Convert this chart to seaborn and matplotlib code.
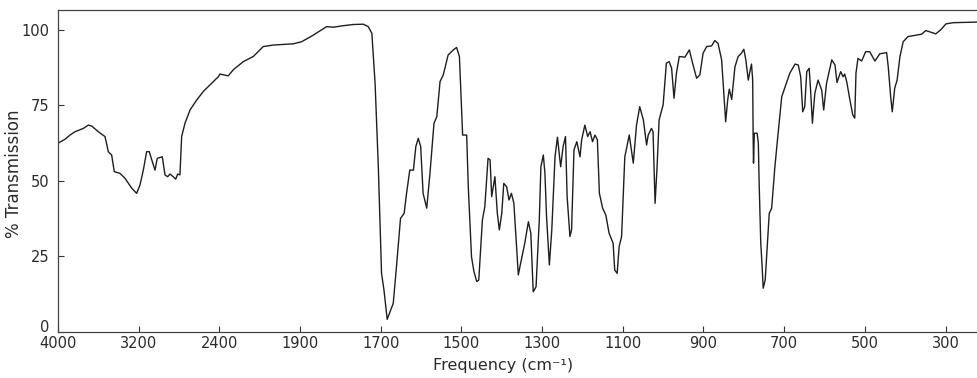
import numpy as np
import pandas as pd
import matplotlib
matplotlib.use("Agg")
import matplotlib.pyplot as plt
import matplotlib.transforms as mtransforms
import seaborn as sns

# tick frequencies of the chart paper (each tick spaced equally on the page)
tick_freqs = [4000, 3200, 2400, 1900, 1700, 1500, 1300, 1100, 900, 700, 500, 300]
tick_labels = [str(t) for t in tick_freqs]

# spectrum, wavenumber (cm-1) and % transmission
wavenumber = [
    4000, 3931, 3881, 3831, 3749, 3700, 3666, 3600, 3534, 3501, 3468, 3442, 3385, 3336, 3269, 3220,
    3187, 3154, 3121, 3095, 3065, 3038, 3016, 2966, 2939, 2912, 2890, 2857, 2833, 2813, 2791, 2774,
    2741, 2691, 2625, 2560, 2493, 2411, 2396, 2345, 2314, 2252, 2190, 2128, 2066, 1942,
    1896, 1867, 1834, 1818, 1793, 1768, 1743, 1731, 1722, 1714, 1706, 1698, 1692, 1684, 1677, 1669,
    1661, 1651, 1642, 1636, 1628, 1619, 1613, 1607, 1601, 1595, 1586, 1578, 1568, 1561, 1553, 1545,
    1533, 1520, 1512, 1505, 1497, 1487, 1483, 1475, 1469, 1462, 1457, 1448, 1442, 1434, 1429, 1425,
    1417, 1411, 1406, 1400, 1395, 1388, 1382, 1376, 1370, 1359, 1355, 1343, 1334, 1328, 1322, 1315,
    1307, 1303, 1297, 1293, 1289, 1282, 1276, 1268, 1262, 1254, 1248, 1242, 1238, 1231, 1227, 1221,
    1214, 1206, 1202, 1194, 1187, 1181, 1175, 1169, 1163, 1158, 1150, 1142, 1134, 1124, 1120, 1114,
    1109, 1103, 1095, 1084, 1074, 1066, 1058, 1049, 1041, 1037, 1029, 1025, 1020, 1015, 1010, 1000,
    992, 985, 979, 973, 967, 960, 946, 935, 927, 917, 909, 901, 892, 880, 872, 864,
    855, 850, 845, 840, 836, 830, 822, 814, 806, 800, 795, 789, 785, 781, 778, 777,
    776, 774, 767, 764, 762, 758, 755, 752, 747, 742, 737, 731, 723, 715, 706, 696,
    686, 673, 665, 659, 654, 649, 644, 638, 635, 630, 624, 616, 607, 602, 595, 582,
    574, 569, 560, 554, 550, 545, 537, 530, 525, 522, 517, 508, 498, 488, 475, 463,
    446, 442, 436, 432, 426, 420, 413, 405, 393, 372, 359, 349, 335, 324, 310, 299,
    281, 248, 222,
]
transmission = [
    62.5, 63.8, 65.2, 66.3, 67.4, 68.5, 68.2, 66.3, 64.7, 59.7, 58.6, 53.1, 52.5, 50.9, 47.6, 45.9,
    48.7, 53.6, 59.7, 59.7, 56.4, 53.6, 57.5, 58.0, 52.0, 51.4, 52.3, 51.4, 50.6, 52.3, 52.0, 64.7,
    69.1, 73.5, 76.8, 79.6, 81.8, 84.5, 85.4, 84.8, 86.8, 89.5, 91.2, 94.5, 95.0, 95.4,
    96.1, 98.3, 101.1, 100.9, 101.4, 101.8, 101.9, 101.1, 98.9, 82.3, 54.7, 19.4, 13.9, 4.2, 6.7, 9.5,
    21.6, 37.6, 39.3, 45.9, 53.6, 53.6, 61.4, 64.1, 61.4, 45.9, 41.0, 52.5, 69.1, 71.3, 82.9, 85.1,
    91.7, 93.4, 94.2, 91.2, 65.2, 65.2, 48.1, 24.9, 20.0, 16.7, 17.2, 37.1, 41.5, 57.5, 57.0, 44.8,
    51.4, 39.3, 33.8, 39.3, 49.2, 48.1, 43.7, 45.9, 42.6, 18.9, 21.6, 29.4, 36.5, 32.7, 13.3, 15.0,
    37.1, 54.7, 58.6, 52.5, 38.2, 22.2, 33.8, 58.0, 64.5, 54.7, 61.4, 64.7, 44.8, 31.6, 33.8, 60.3,
    63.0, 58.0, 63.6, 68.5, 64.7, 66.3, 63.0, 65.2, 63.6, 45.9, 41.0, 38.7, 32.7, 29.4, 20.5, 19.4,
    28.3, 31.6, 58.0, 65.2, 55.9, 68.5, 74.6, 70.2, 61.9, 65.2, 67.4, 66.3, 42.6, 54.7, 70.2, 75.2,
    89.0, 89.5, 87.3, 77.4, 85.7, 91.2, 91.0, 93.4, 89.0, 84.0, 85.1, 92.3, 94.5, 94.7, 96.5, 95.6,
    90.1, 80.1, 69.6, 76.8, 80.4, 77.0, 87.8, 91.2, 92.3, 93.6, 90.1, 83.4, 86.2, 88.7, 83.4, 65.8,
    55.9, 65.8, 65.8, 62.5, 49.2, 29.4, 22.7, 14.5, 17.2, 28.3, 39.3, 41.0, 54.7, 65.8, 77.9, 81.8,
    85.7, 88.7, 88.4, 84.5, 72.9, 74.6, 86.2, 87.3, 81.2, 69.1, 79.0, 83.4, 80.1, 73.5, 82.3, 90.1,
    88.4, 82.6, 86.2, 84.5, 85.4, 82.9, 76.8, 71.9, 70.8, 85.7, 90.6, 89.7, 92.8, 92.8, 89.7, 92.1,
    92.5, 87.8, 77.9, 72.9, 80.7, 83.4, 91.2, 96.1, 97.8, 98.3, 98.6, 99.8, 99.2, 98.7, 100.3, 102.0,
    102.4, 102.5, 102.6,
]
ytick_vals = [0, 25, 50, 75, 100]

df = pd.DataFrame({"freq": wavenumber, "T": transmission})

# chart paper scale: piecewise linear between the printed ticks
scale_f = np.array([100] + tick_freqs[::-1] + [4800], dtype=float)
scale_p = np.arange(len(scale_f), dtype=float)


def fwd(x):
    return np.interp(np.asarray(x, dtype=float), scale_f, scale_p)


def inv(p):
    return np.interp(np.asarray(p, dtype=float), scale_p, scale_f)


sns.set_style("ticks")
plt.rcParams["font.family"] = ["DejaVu Sans"]

fig = plt.figure(figsize=(9.77, 3.78), dpi=100)
ax = fig.add_axes([58 / 977, 46 / 378, 919 / 977, 322 / 378])

sns.lineplot(data=df, x="freq", y="T", ax=ax, color="#1e1e1e", linewidth=1.0,
             sort=False, estimator=None)

ax.set_xscale("function", functions=(fwd, inv))
ax.set_xlim(4000, 222)
ax.set_ylim(0, 106.6)
ax.set_xticks(tick_freqs)
ax.set_xticklabels(tick_labels)
ax.minorticks_off()
ax.set_yticks(ytick_vals)
ax.set_yticklabels([str(v) for v in ytick_vals])

ax.tick_params(axis="both", direction="in", length=4, width=0.8, colors="#333333",
               labelsize=10.5, labelcolor="#2a2a2a")
ax.tick_params(axis="x", pad=3)
ax.tick_params(axis="y", pad=6)

# lift the "0" a little so it sits above "4000", as on the original sheet
zero_lbl = ax.get_yticklabels()[0]
zero_lbl.set_transform(zero_lbl.get_transform() +
                       mtransforms.ScaledTranslation(0, 4 / 72, fig.dpi_scale_trans))

for side in ["top", "left", "bottom"]:
    ax.spines[side].set_visible(True)
    ax.spines[side].set_color("#444444")
    ax.spines[side].set_linewidth(0.9)
ax.spines["right"].set_visible(False)

ax.set_xlabel("Frequency (cm⁻¹)", fontsize=11.5, color="#2a2a2a")
ax.set_ylabel("% Transmission", fontsize=12, color="#2a2a2a")
ax.xaxis.set_label_coords(0.484, -0.081)
ax.yaxis.set_label_coords(-0.038, 0.49)

fig.savefig("out.png", dpi=100)
